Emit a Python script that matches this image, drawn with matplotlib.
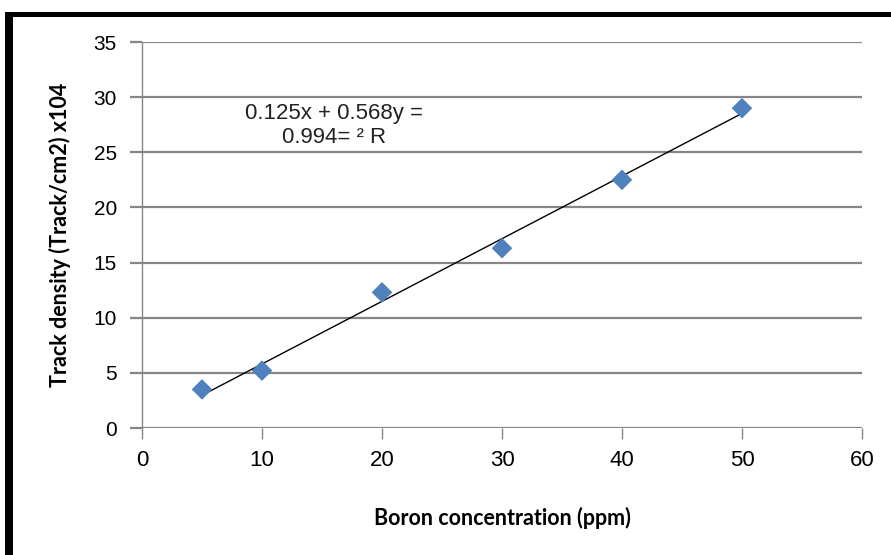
import matplotlib
matplotlib.use("Agg")
import matplotlib.pyplot as plt
import numpy as np
from matplotlib.patches import Rectangle

# boron concentration (ppm) vs. track density
boron = [5, 10, 20, 30, 40, 50]
density = [3.5, 5.2, 12.3, 16.3, 22.5, 29.0]

slope = 0.568
intercept = 0.125
r2 = 0.994

x_ticks = [0, 10, 20, 30, 40, 50, 60]
y_ticks = [0, 5, 10, 15, 20, 25, 30, 35]

plt.rcParams["font.family"] = ["Liberation Sans", "DejaVu Sans"]

fig = plt.figure(figsize=(8.91, 5.55), dpi=100)
ax = fig.add_axes([142 / 891, 1 - 428 / 555, 720 / 891, 386 / 555])

# outer black frame (left and top edges visible)
fig.add_artist(Rectangle((5 / 891, 0), 8 / 891, 1 - 12 / 555, transform=fig.transFigure,
                         facecolor="black", edgecolor="none"))
fig.add_artist(Rectangle((5 / 891, 1 - 17 / 555), 1, 5 / 555, transform=fig.transFigure,
                         facecolor="black", edgecolor="none"))

ax.set_xlim(0, 60)
ax.set_ylim(0, 35)
ax.set_xticks(x_ticks)
ax.set_yticks(y_ticks)

ax.yaxis.grid(True, color="#868686", linewidth=1.6)
ax.set_axisbelow(True)
for s in ["top", "right", "bottom"]:
    ax.spines[s].set_visible(False)
ax.spines["left"].set_color("#868686")
ax.spines["left"].set_linewidth(1.0)

ax.tick_params(axis="y", length=9, width=1.6, color="#868686", pad=9, labelsize=15)
ax.tick_params(axis="x", length=8, width=1.0, color="#868686", pad=8, labelsize=16)

# trendline
xs = np.array([boron[0], boron[-1]])
ax.plot(xs, slope * xs + intercept, color="black", linewidth=1.0, zorder=2)

ax.scatter(boron, density, marker="D", s=110, color="#4F81BD", edgecolors="none", zorder=3)

ax.text(16.0, 27.4, "0.125x + 0.568y =\n0.994= ² R", ha="center", va="center",
        fontsize=16, color="#222222", linespacing=1.2)

ax.set_xlabel("Boron concentration (ppm)", fontsize=15.5, fontweight="bold",
              family=["Lato", "DejaVu Sans"], labelpad=26)
ax.set_ylabel("Track density (Track/cm2) x104", fontsize=15.5, fontweight="bold",
              family=["Lato", "DejaVu Sans"], labelpad=16)

fig.savefig("out.png", dpi=100)
plt.close(fig)
